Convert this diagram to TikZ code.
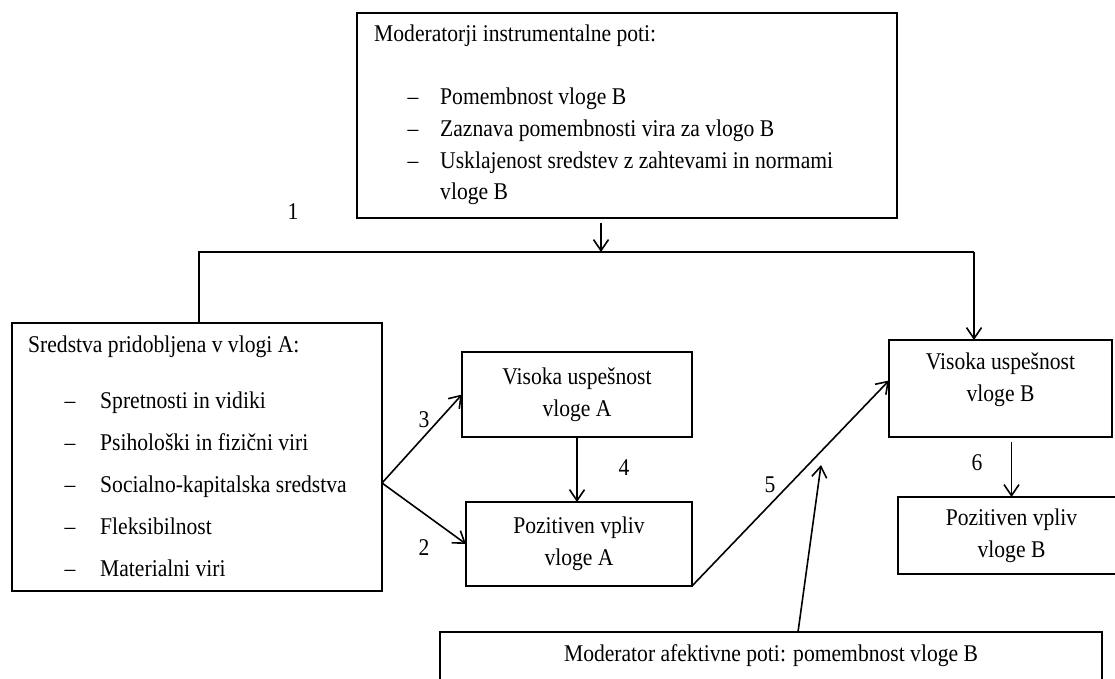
\documentclass[tikz,border=0pt]{standalone}
\usepackage{fontspec}
\setmainfont{Liberation Serif}[FakeStretch=0.9]
\usetikzlibrary{arrows.meta}

\begin{document}
\begin{tikzpicture}
[x=1pt,y=-1pt,
  boxDecorate/.style={shape=rectangle,draw,line width=1.6pt,inner sep=0pt,outer sep=0pt,align=center,font=\fontsize{24}{32}\selectfont},%
  textDecorate/.style={inner sep=0pt,anchor=base west,font=\fontsize{24}{32}\selectfont},%
  dashDecorate/.style={inner sep=0pt,anchor=base,font=\fontsize{24}{32}\selectfont},%
  numDecorate/.style={inner sep=0pt,font=\fontsize{24}{32}\selectfont},%
  lineDecorate/.style={-,line width=1.6pt},%
  arrowDecorate/.style={-{Straight Barb[length=11pt,width=15pt]},line width=1.6pt}]
\useasboundingbox (0,0) rectangle (1115,678);
\clip (0,0) rectangle (1115,678);
%% moderators of the instrumental path
\node (instr) at (357,13) [boxDecorate,anchor=north west,minimum width=540pt,minimum height=205pt] {};
\node (instrTitle) at (374,41) [textDecorate] {Moderatorji instrumentalne poti:};
\foreach \nodename/\y/\itemtext in {
  instrA/104/Pomembnost vloge B, instrB/136/Zaznava pomembnosti vira za vlogo B,
  instrC/168/Usklajenost sredstev z zahtevami in normami}
{
  \node (\nodename) at (440,\y) [textDecorate] {\itemtext};
  \node (\nodename-dash) at (413,\y) [dashDecorate] {–};
}
\node (instrD) at (440,199) [textDecorate] {vloge B};
%% resources from role A
\node (res) at (12,323) [boxDecorate,anchor=north west,minimum width=370pt,minimum height=268pt] {};
\node (resTitle) at (28,352) [textDecorate] {Sredstva pridobljena v vlogi A:};
\foreach \nodename/\y/\itemtext in {
  resA/408/Spretnosti in vidiki, resB/450/Psihološki in fizični viri,
  resC/492/Socialno-kapitalska sredstva, resD/534/Fleksibilnost,
  resE/576/Materialni viri}
{
  \node (\nodename) at (100,\y) [textDecorate] {\itemtext};
  \node (\nodename-dash) at (70,\y) [dashDecorate] {–};
}
%% outcomes
\node (hpA) at (577,394.5) [boxDecorate,minimum width=230pt,minimum height=85pt] {Visoka uspešnost\\vloge A};
\node (posA) at (579,544) [boxDecorate,minimum width=226pt,minimum height=84pt] {Pozitiven vpliv\\vloge A};
\node (hpB) at (1000.5,388.5) [boxDecorate,minimum width=223pt,minimum height=97pt] {};
\node (hpBText) at (1000.5,380) [boxDecorate,draw=none] {Visoka uspešnost\\vloge B};
\node (posB) at (1011.5,535.5) [boxDecorate,minimum width=227pt,minimum height=77pt] {Pozitiven vpliv\\vloge B};
\node (afek) at (440,632) [boxDecorate,anchor=north west,minimum width=662pt,minimum height=48pt] {Moderator afektivne poti: pomembnost vloge B};
%% path numbers
\foreach \nodename/\x/\y/\num in {
  lblOne/293/212/1, lblTwo/424/548/2, lblThree/424/420/3,
  lblFour/624/468/4, lblFive/770/485/5, lblSix/977/463/6}
{
  \node (\nodename) at (\x,\y) [numDecorate] {\num};
}
%% connectors
\coordinate (jL) at (199,252);
\coordinate (jM) at (601,252);
\coordinate (jR) at (974,252);
\coordinate (fork) at (382,483);
\coordinate (afekBase) at (798,632);
\coordinate (afekTip) at (821,465);
\draw[lineDecorate] (jL |- res.north) -- (jL) -- (jR);
\draw[arrowDecorate] (jR) -- (jR |- hpB.north);
\draw[arrowDecorate] ([yshift=-5pt]instr.south -| jM) -- (jM);
\draw[arrowDecorate] (fork) -- (hpA.west);
\draw[arrowDecorate] (fork) -- (posA.west);
\draw[arrowDecorate] (hpA.south) -- (hpA.south |- posA.north);
\draw[arrowDecorate] (posA.south east) -- ([yshift=8pt]hpB.west);
\draw[arrowDecorate] ([yshift=-5pt]hpB.south -| posB.north) -- (posB.north);
\draw[arrowDecorate] (afek.north -| afekBase) -- (afekTip);
\end{tikzpicture}
\end{document}
